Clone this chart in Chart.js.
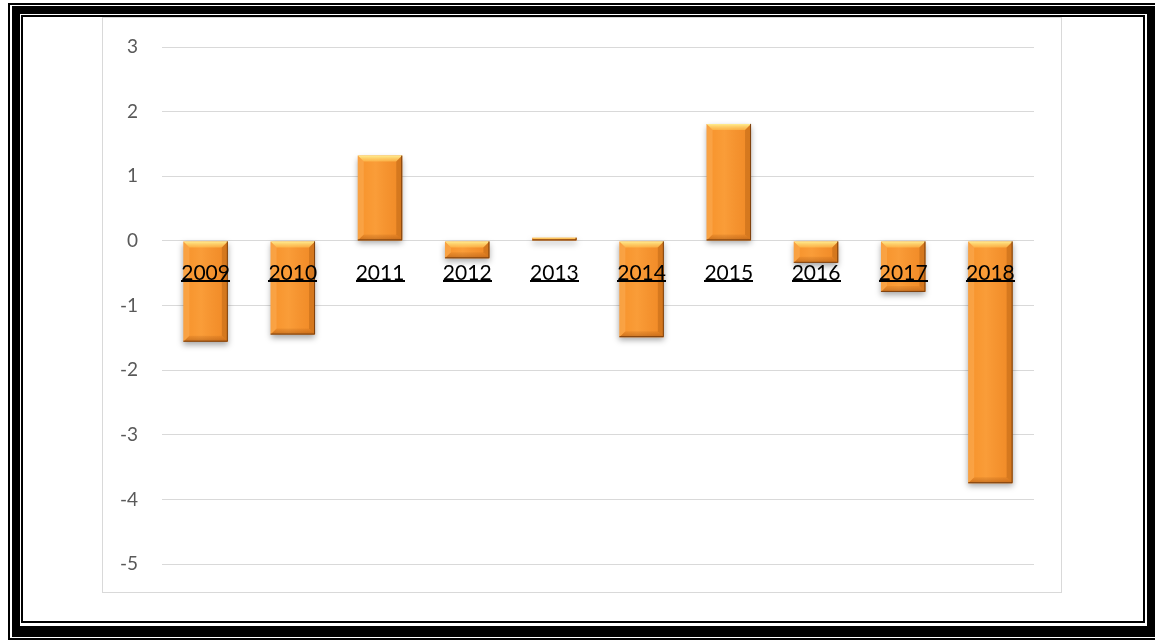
<!DOCTYPE html>
<html lang="en">
<head>
    <meta charset="UTF-8">
    <title>Annual change</title>
    <script src="https://cdn.jsdelivr.net/npm/chart.js"></script>
    <style>
        html, body {
            margin: 0;
            padding: 0;
            background: #ffffff;
            width: 1155px;
            height: 640px;
            overflow: hidden;
            position: relative;
        }
        .frame {
            position: absolute;
            box-sizing: border-box;
            border-style: solid;
            border-color: #000000;
        }
        #frameOuter { left: 8px; top: 3px; width: 1160px; height: 637px; border-width: 2px; }
        #frameThick { left: 12px; top: 6px; width: 1143px; height: 631px; border-width: 8px 8px 11px 8px; }
        #frameInner { left: 21px; top: 15px; width: 1124px; height: 608px; border-width: 2px; }
        #plotBox {
            position: absolute;
            left: 102px;
            top: 17px;
            width: 960px;
            height: 576px;
            box-sizing: border-box;
            border: 1px solid #d9d9d9;
        }
    </style>
</head>
<body>

<div class="frame" id="frameOuter"></div>
<div class="frame" id="frameThick"></div>
<div class="frame" id="frameInner"></div>

<div id="plotBox">
    <canvas id="changeChart"></canvas>
</div>

<script>
    // data
    const years = ['2009', '2010', '2011', '2012', '2013', '2014', '2015', '2016', '2017', '2018'];
    const changes = [-1.56, -1.45, 1.32, -0.27, 0.05, -1.49, 1.81, -0.34, -0.79, -3.75];
    const yTicks = [-5, -4, -3, -2, -1, 0, 1, 2, 3];

    const labelFont = { family: 'Lato, "Liberation Sans", sans-serif', size: 21 };
    const labelPadding = 20;

    // soft drop shadow under the bars
    const barShadow = {
        id: 'barShadow',
        beforeDatasetDraw(chart) {
            const ctx = chart.ctx;
            ctx.save();
            ctx.shadowColor = 'rgba(0, 0, 0, 0.35)';
            ctx.shadowBlur = 6;
            ctx.shadowOffsetY = 3;
        },
        afterDatasetDraw(chart) {
            chart.ctx.restore();
        }
    };

    // bevelled edges on each bar
    const barBevel = {
        id: 'barBevel',
        afterDatasetsDraw(chart) {
            const ctx = chart.ctx;
            const meta = chart.getDatasetMeta(0);
            meta.data.forEach(function(bar) {
                const p = bar.getProps(['x', 'y', 'base', 'width'], true);
                const left = p.x - p.width / 2;
                const right = p.x + p.width / 2;
                const top = Math.min(p.y, p.base);
                const bottom = Math.max(p.y, p.base);
                const h = bottom - top;
                const b = Math.min(6, h / 2, p.width / 2);
                if (h <= 0) return;

                ctx.save();

                // soft highlight across the face
                let g = ctx.createLinearGradient(left, 0, right, 0);
                g.addColorStop(0, 'rgba(255, 170, 70, 0.0)');
                g.addColorStop(0.4, 'rgba(255, 175, 80, 0.35)');
                g.addColorStop(1, 'rgba(220, 110, 20, 0.25)');
                ctx.fillStyle = g;
                ctx.fillRect(left, top, p.width, h);

                g = ctx.createLinearGradient(0, top, 0, top + b);
                g.addColorStop(0, 'rgba(255, 238, 145, 1)');
                g.addColorStop(1, 'rgba(255, 200, 90, 0.55)');
                ctx.fillStyle = g;
                ctx.beginPath();
                ctx.moveTo(left, top);
                ctx.lineTo(right, top);
                ctx.lineTo(right - b, top + b);
                ctx.lineTo(left + b, top + b);
                ctx.closePath();
                ctx.fill();

                ctx.fillStyle = 'rgba(255, 205, 130, 0.25)';
                ctx.beginPath();
                ctx.moveTo(left, top);
                ctx.lineTo(left + b, top + b);
                ctx.lineTo(left + b, bottom - b);
                ctx.lineTo(left, bottom);
                ctx.closePath();
                ctx.fill();

                ctx.fillStyle = 'rgba(150, 75, 10, 0.3)';
                ctx.beginPath();
                ctx.moveTo(right, top);
                ctx.lineTo(right - b, top + b);
                ctx.lineTo(right - b, bottom - b);
                ctx.lineTo(right, bottom);
                ctx.closePath();
                ctx.fill();

                g = ctx.createLinearGradient(0, bottom - b, 0, bottom);
                g.addColorStop(0, 'rgba(170, 85, 15, 0.15)');
                g.addColorStop(1, 'rgba(140, 65, 10, 0.45)');
                ctx.fillStyle = g;
                ctx.beginPath();
                ctx.moveTo(left, bottom);
                ctx.lineTo(left + b, bottom - b);
                ctx.lineTo(right - b, bottom - b);
                ctx.lineTo(right, bottom);
                ctx.closePath();
                ctx.fill();

                ctx.strokeStyle = 'rgba(110, 55, 10, 0.85)';
                ctx.lineWidth = 1;
                ctx.beginPath();
                ctx.moveTo(right - 0.5, top);
                ctx.lineTo(right - 0.5, bottom - 0.5);
                ctx.lineTo(left, bottom - 0.5);
                ctx.stroke();

                ctx.restore();
            });
        }
    };

    // underline the year labels
    const underlineLabels = {
        id: 'underlineLabels',
        afterDraw(chart) {
            const ctx = chart.ctx;
            const xScale = chart.scales.x;
            const zeroY = chart.scales.y.getPixelForValue(0);
            ctx.save();
            ctx.font = labelFont.size + 'px ' + labelFont.family;
            ctx.textBaseline = 'top';
            ctx.fillStyle = '#000000';
            years.forEach(function(label, i) {
                const m = ctx.measureText(label);
                const cx = xScale.getPixelForTick(i);
                const y = zeroY + labelPadding + m.actualBoundingBoxDescent + 2;
                ctx.fillRect(Math.round(cx - m.width / 2), Math.round(y), Math.round(m.width), 2);
            });
            ctx.restore();
        }
    };

    const ctx = document.getElementById('changeChart').getContext('2d');
    new Chart(ctx, {
        type: 'bar',
        data: {
            labels: years,
            datasets: [{
                data: changes,
                backgroundColor: '#f7932c',
                borderWidth: 0,
                barPercentage: 0.51,
                categoryPercentage: 1
            }]
        },
        options: {
            responsive: true,
            maintainAspectRatio: false,
            animation: false,
            layout: {
                padding: { top: 29, right: 27, bottom: 28, left: 0 }
            },
            plugins: {
                legend: { display: false },
                tooltip: { enabled: false }
            },
            scales: {
                x: {
                    position: { y: 0 },
                    grid: { display: false, drawTicks: false },
                    border: { display: false },
                    ticks: {
                        z: 1,
                        color: '#000000',
                        font: labelFont,
                        padding: labelPadding,
                        maxRotation: 0
                    }
                },
                y: {
                    min: -5,
                    max: 3,
                    afterFit(scale) {
                        // fixed axis width; the tick padding should not eat vertical room
                        scale.width = 59;
                        scale.paddingTop = 0;
                        scale.paddingBottom = 0;
                    },
                    afterBuildTicks(scale) {
                        scale.ticks = yTicks.map(v => ({ value: v }));
                    },
                    grid: { color: '#d9d9d9', lineWidth: 1, drawTicks: false },
                    border: { display: false },
                    ticks: {
                        color: '#595959',
                        font: { family: 'Lato, "Liberation Sans", sans-serif', size: 19 },
                        padding: 24
                    }
                }
            }
        },
        plugins: [barShadow, barBevel, underlineLabels]
    });
</script>

</body>
</html>
